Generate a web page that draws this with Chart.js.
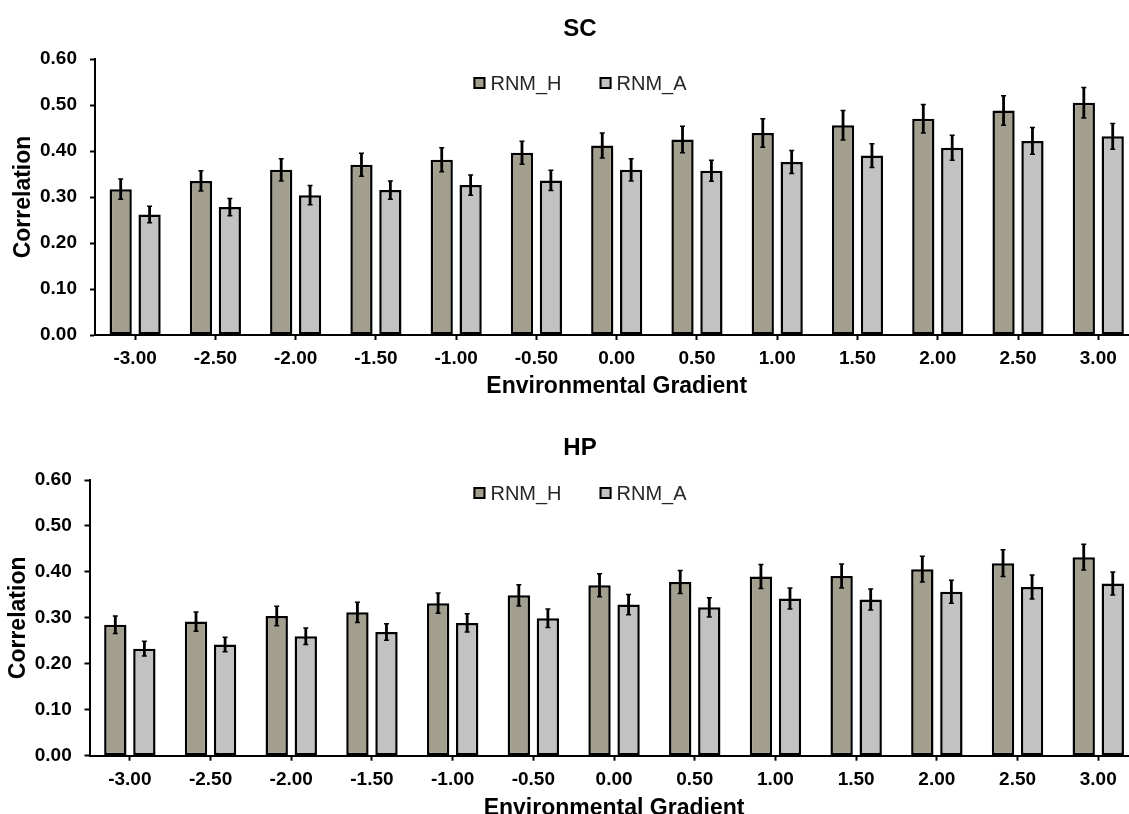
<!DOCTYPE html>
<html lang="en">
<head>
<meta charset="UTF-8">
<title>Correlation along the environmental gradient</title>
<style>
body {
    margin: 0;
    background: #fff;
    overflow: hidden;
    width: 1129px;
    height: 814px;
    position: relative;
}
canvas {
    position: absolute;
    left: 0;
}
#sc { top: 0; }
#hp { top: 410px; }
</style>
</head>
<body>
<canvas id="sc" width="1160" height="402"></canvas>
<canvas id="hp" width="1160" height="414"></canvas>

<script src="https://cdn.jsdelivr.net/npm/chart.js"></script>
<script>
const gradient = ['-3.00', '-2.50', '-2.00', '-1.50', '-1.00', '-0.50', '0.00', '0.50', '1.00', '1.50', '2.00', '2.50', '3.00'];
const seriesNames = ['RNM_H', 'RNM_A'];

const scH    = [0.317, 0.335, 0.359, 0.370, 0.381, 0.396, 0.412, 0.425, 0.439, 0.456, 0.470, 0.488, 0.505];
const scHErr = [0.022, 0.022, 0.024, 0.025, 0.026, 0.025, 0.027, 0.029, 0.031, 0.032, 0.031, 0.032, 0.033];
const scA    = [0.262, 0.278, 0.304, 0.315, 0.326, 0.336, 0.359, 0.357, 0.376, 0.390, 0.407, 0.422, 0.432];
const scAErr = [0.018, 0.019, 0.021, 0.020, 0.022, 0.022, 0.024, 0.023, 0.025, 0.026, 0.027, 0.029, 0.028];

const hpH    = [0.285, 0.292, 0.304, 0.312, 0.332, 0.349, 0.371, 0.378, 0.390, 0.391, 0.406, 0.419, 0.432];
const hpHErr = [0.019, 0.021, 0.021, 0.022, 0.022, 0.023, 0.025, 0.025, 0.026, 0.026, 0.028, 0.029, 0.028];
const hpA    = [0.233, 0.242, 0.260, 0.269, 0.289, 0.299, 0.329, 0.323, 0.342, 0.340, 0.357, 0.367, 0.375];
const hpAErr = [0.016, 0.016, 0.018, 0.018, 0.020, 0.020, 0.022, 0.021, 0.023, 0.023, 0.025, 0.026, 0.025];

const yTicks = [0, 0.1, 0.2, 0.3, 0.4, 0.5, 0.6];

const colH = '#a39f8f';
const colA = '#c2c2c2';
const FONT = "'Liberation Sans', Arial, sans-serif";

// error bars: thick stem plus short caps, drawn over each bar
const errorBars = {
    id: 'errorBars',
    afterDatasetsDraw(chart) {
        const ctx = chart.ctx;
        const y = chart.scales.y;
        chart.data.datasets.forEach((ds, i) => {
            const meta = chart.getDatasetMeta(i);
            meta.data.forEach((bar, j) => {
                const v = ds.data[j], e = ds.errors[j];
                const top = y.getPixelForValue(v + e);
                const bot = y.getPixelForValue(v - e);
                ctx.save();
                ctx.strokeStyle = '#000';
                ctx.lineWidth = 2.8;
                ctx.beginPath();
                ctx.moveTo(bar.x, top);
                ctx.lineTo(bar.x, bot);
                ctx.stroke();
                ctx.lineWidth = 1.5;
                ctx.beginPath();
                ctx.moveTo(bar.x - 2.5, top);
                ctx.lineTo(bar.x + 2.5, top);
                ctx.moveTo(bar.x - 2.5, bot);
                ctx.lineTo(bar.x + 2.5, bot);
                ctx.stroke();
                ctx.restore();
            });
        });
    }
};

// legend sits inside the plot, under the top of the y range
const innerLegend = {
    id: 'innerLegend',
    afterDraw(chart, args, opts) {
        const ctx = chart.ctx;
        ctx.save();
        ctx.font = '20px ' + FONT;
        const box = 12, gap = 5, spacing = 38;
        const items = chart.data.datasets.map(ds => ({
            label: ds.label, color: ds.backgroundColor, w: ctx.measureText(ds.label).width
        }));
        let total = items.reduce((s, it) => s + box + gap + it.w, 0) + spacing * (items.length - 1);
        let x = opts.cx - total / 2;
        const cy = opts.cy;
        ctx.textBaseline = 'middle';
        ctx.textAlign = 'left';
        items.forEach(it => {
            ctx.fillStyle = it.color;
            ctx.fillRect(x, cy - box / 2, box, box);
            ctx.strokeStyle = '#000';
            ctx.lineWidth = 2;
            ctx.strokeRect(x + 1, cy - box / 2 + 1, box - 2, box - 2);
            ctx.fillStyle = '#262626';
            ctx.fillText(it.label, x + box + gap, cy + 1);
            x += box + gap + it.w + spacing;
        });
        ctx.restore();
    }
};

function makeChart(id, title, hVals, hErr, aVals, aErr, g) {
    return new Chart(document.getElementById(id), {
        type: 'bar',
        data: {
            labels: gradient,
            datasets: [
                { label: seriesNames[0], data: hVals, errors: hErr, backgroundColor: colH,
                  borderColor: '#000', borderWidth: 2.5, borderSkipped: false },
                { label: seriesNames[1], data: aVals, errors: aErr, backgroundColor: colA,
                  borderColor: '#000', borderWidth: 2.5, borderSkipped: false }
            ]
        },
        options: {
            responsive: false,
            animation: false,
            datasets: { bar: { categoryPercentage: 0.72, barPercentage: 0.77 } },
            layout: { padding: 0 },
            plugins: {
                legend: { display: false },
                tooltip: { enabled: false },
                title: {
                    display: true,
                    text: title,
                    color: '#000',
                    font: { family: FONT, size: 24, weight: 'bold', lineHeight: 1.2 },
                    padding: { top: g.titleTop, bottom: g.titleBottom }
                },
                innerLegend: { cx: 580, cy: 83 }
            },
            scales: {
                x: {
                    grid: { display: true, drawOnChartArea: false, offset: false, drawTicks: true,
                            tickLength: 5, tickColor: '#000', tickWidth: 2 },
                    border: { display: true, color: '#000', width: 2 },
                    ticks: { color: '#000', padding: g.xPad, font: { family: FONT, size: 19, weight: 'bold' } },
                    title: { display: true, text: 'Environmental Gradient', color: '#000',
                             font: { family: FONT, size: 23, weight: 'bold', lineHeight: 1.2 },
                             padding: { top: 0, bottom: 1.5 } },
                    afterFit(s) { s.height = g.xHeight; }
                },
                y: {
                    min: 0,
                    max: 0.6,
                    afterBuildTicks(s) { s.ticks = yTicks.map(v => ({ value: v })); },
                    grid: { display: true, drawOnChartArea: false, drawTicks: true,
                            tickLength: 5, tickColor: '#000', tickWidth: 2 },
                    border: { display: true, color: '#000', width: 2 },
                    ticks: { color: '#000', padding: g.yPad, callback: v => v.toFixed(2),
                             font: { family: FONT, size: 19, weight: 'bold' } },
                    title: { display: true, text: 'Correlation', color: '#000',
                             font: { family: FONT, size: 23, weight: 'bold', lineHeight: 1.2 },
                             padding: { top: g.yTitlePad, bottom: 0 } },
                    afterFit(s) { s.width = g.yWidth; }
                },
                // empty right-hand band so the plot runs past the page edge
                right: {
                    position: 'right',
                    display: true,
                    grid: { display: false },
                    border: { display: false },
                    ticks: { display: false },
                    afterFit(s) { s.width = g.rightWidth; }
                }
            }
        },
        plugins: [errorBars, innerLegend]
    });
}

makeChart('sc', 'SC', scH, scHErr, scA, scAErr, {
    titleTop: 14.6, titleBottom: 15.6, xHeight: 67, xPad: 7,
    yWidth: 95, yPad: 13, yTitlePad: 10, rightWidth: 21.6
});

makeChart('hp', 'HP', hpH, hpHErr, hpA, hpAErr, {
    titleTop: 23.6, titleBottom: 17.6, xHeight: 68.3, xPad: 8,
    yWidth: 89.5, yPad: 12.8, yTitlePad: 4.5, rightWidth: 21.4
});
</script>
</body>
</html>
